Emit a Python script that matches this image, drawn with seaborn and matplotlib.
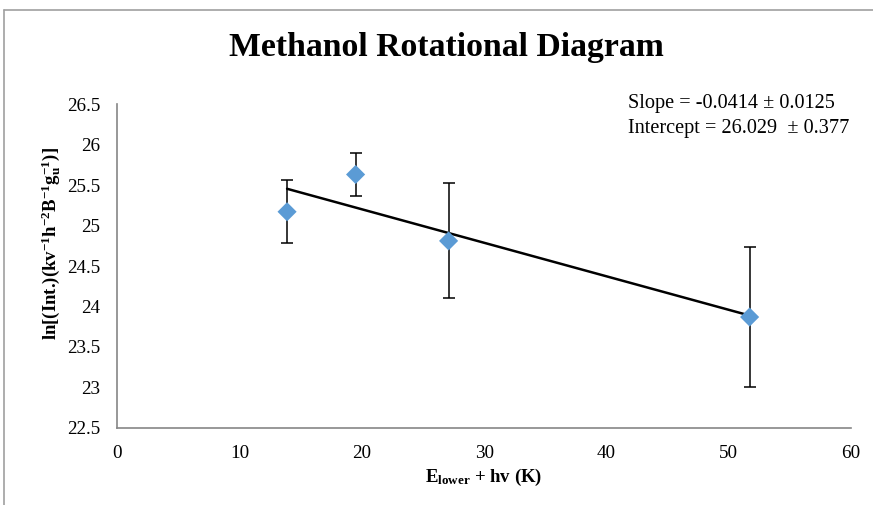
import matplotlib
matplotlib.use("Agg")
import matplotlib.pyplot as plt
import seaborn as sns
import numpy as np
import pandas as pd
from matplotlib.lines import Line2D

# Data
energy_K = [13.9, 19.5, 27.1, 51.7]
ln_int = [25.17, 25.63, 24.81, 23.87]
ln_err = [0.39, 0.26, 0.71, 0.86]
slope, slope_err = -0.0414, 0.0125
intercept, intercept_err = 26.029, 0.377
x_ticks = [0, 10, 20, 30, 40, 50, 60]
y_ticks = [22.5, 23, 23.5, 24, 24.5, 25, 25.5, 26, 26.5]

sns.set_theme(style="white")
plt.rcParams['font.family'] = ['Liberation Serif', 'DejaVu Serif']
plt.rcParams['mathtext.default'] = 'regular'
plt.rcParams['text.color'] = 'black'
plt.rcParams['axes.labelcolor'] = 'black'

df = pd.DataFrame({"E": energy_K, "lnI": ln_int, "err": ln_err})
fit_x = np.array([min(energy_K), max(energy_K)])
fit_df = pd.DataFrame({"E": fit_x, "lnI": intercept + slope * fit_x})

fig = plt.figure(figsize=(8.73, 5.05), dpi=100)
ax = fig.add_axes([0.134, 0.1525, 0.841, 0.6415])

ax.errorbar(df["E"], df["lnI"], yerr=df["err"], fmt="none", ecolor="black",
            elinewidth=1.1, capsize=4.5, capthick=1.1, zorder=2)
sns.lineplot(data=fit_df, x="E", y="lnI", color="black", linewidth=1.8, ax=ax, zorder=3)
sns.scatterplot(data=df, x="E", y="lnI", marker="D", s=95, color="#5B9BD5",
                edgecolor="none", ax=ax, zorder=4)

ax.set_xlim(0, 60)
ax.set_ylim(22.5, 26.5)
ax.set_xticks(x_ticks)
ax.set_yticks(y_ticks)
ax.set_xticklabels([f"{t:g}" for t in x_ticks])
ax.set_yticklabels([f"{t:g}" for t in y_ticks])
ax.tick_params(axis="both", labelsize=13.8, colors="#868686", labelcolor="black",
               direction="out", length=5, width=1)
ax.tick_params(axis="x", pad=7)
ax.tick_params(axis="y", pad=7)

for s in ["top", "right"]:
    ax.spines[s].set_visible(False)
for s in ["left", "bottom"]:
    ax.spines[s].set_color("#868686")
    ax.spines[s].set_linewidth(1.2)

ax.set_xlabel(r"E$_{lower}$ + hv (K)", fontsize=13.5, fontweight="bold", labelpad=4)
ax.set_ylabel(r"ln[(Int.)(kv$^{-1}$h$^{-2}$B$^{-1}$g$_{u}^{-1}$)]", fontsize=13.5,
              fontweight="bold", labelpad=6)
ax.yaxis.set_label_coords(-0.074, 0.571)

fig.text(0.511, 0.906, "Methanol Rotational Diagram", ha="center", va="center",
         fontsize=24.3, fontweight="bold")

fig.text(0.719, 0.795, f"Slope = {slope} \u00b1 {slope_err}", fontsize=14.6, va="center")
fig.text(0.719, 0.746, f"Intercept = {intercept}  \u00b1 {intercept_err}", fontsize=14.6, va="center")

# outer frame lines
fig.add_artist(Line2D([0.005, 1.0], [0.98, 0.98], transform=fig.transFigure, color="#A0A0A0", lw=1.2))
fig.add_artist(Line2D([0.005, 0.005], [0.0, 0.98], transform=fig.transFigure, color="#A0A0A0", lw=1.2))

fig.savefig("out.png", dpi=100)
